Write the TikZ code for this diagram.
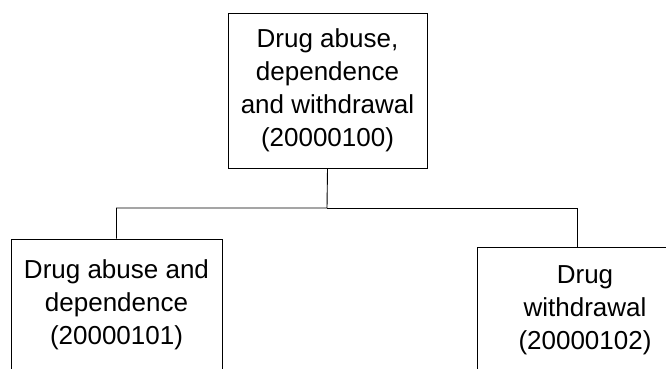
\documentclass[tikz,border=0pt]{standalone}
\usepackage{fontspec}
\setmainfont{Liberation Sans}
\usetikzlibrary{positioning}
\tikzset{
  box/.style={rectangle, draw, fill=white, align=center, inner sep=0pt,
    font={\fontsize{26}{33}\selectfont}},
  link/.style={draw, line width=0.9pt}
}

\begin{document}
\begin{tikzpicture}[x=1pt, y=-1pt, line width=0.9pt]
  \clip (0,0) rectangle (666,368);
  \node [box, minimum width=199pt, minimum height=155pt] (drug) at (327.5,90.5)
    {Drug abuse,\\dependence\\and withdrawal\\(20000100)};
  \node [box, minimum width=211pt, minimum height=131pt] (abuse) at (116.5,304.5)
    {Drug abuse and\\dependence\\(20000101)};
  \node [box, minimum width=216pt, minimum height=127pt] (withdr) at (585,310.5)
    {Drug\\withdrawal\\(20000102)};
  \coordinate (fork) at (327,208);
  \draw [link] (drug.south) -- (fork) -| (abuse.north);
  \draw [link] (fork) -| ([xshift=-8pt]withdr.north);
\end{tikzpicture}
\end{document}
